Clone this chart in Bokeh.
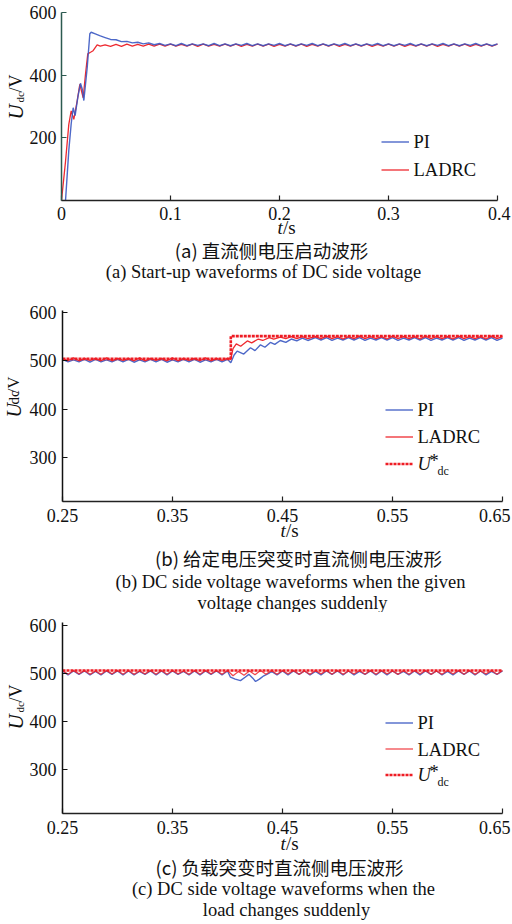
import math
from bokeh.plotting import figure
from bokeh.layouts import column
from bokeh.models import (Range1d, FixedTicker, Legend, LegendItem, LinearAxis,
                          CustomJSTickFormatter)
from bokeh.core.properties import value
from bokeh.embed import file_html
from bokeh.resources import INLINE

# ---------------- data ----------------
# (a) start-up
pi_a_tr_t = [0.0037, 0.0067, 0.0089, 0.0107, 0.0125, 0.0150, 0.0174, 0.0190, 0.0205, 0.0236, 0.0260, 0.0272, 0.0310, 0.0350]
pi_a_tr_u = [0, 160, 245, 296, 271, 330, 374, 356, 319, 425, 532, 537, 532, 526]
lad_a_tr_t = [0.0, 0.0037, 0.0067, 0.0089, 0.0113, 0.0144, 0.0168, 0.0199, 0.0220, 0.0241, 0.0266, 0.0290, 0.0327, 0.0356]
lad_a_tr_u = [0, 125, 243, 286, 259, 318, 371, 328, 403, 468, 473, 478, 497, 493]
t_a_ss = [0.040, 0.045, 0.050, 0.055, 0.060, 0.065, 0.070, 0.075, 0.080, 0.085, 0.090, 0.095,
          0.100, 0.105, 0.110, 0.115, 0.120, 0.125, 0.130, 0.135, 0.140, 0.145,
          0.150, 0.155, 0.160, 0.165, 0.170, 0.175, 0.180, 0.185, 0.190, 0.195,
          0.200, 0.205, 0.210, 0.215, 0.220, 0.225, 0.230, 0.235, 0.240, 0.245,
          0.250, 0.255, 0.260, 0.265, 0.270, 0.275, 0.280, 0.285, 0.290, 0.295,
          0.300, 0.305, 0.310, 0.315, 0.320, 0.325, 0.330, 0.335, 0.340, 0.345,
          0.350, 0.355, 0.360, 0.365, 0.370, 0.375, 0.380, 0.385, 0.390, 0.395,
          0.400]
pi_a_ss = [520, 514, 513, 507, 508, 503, 505, 500, 503, 497, 501, 495,
           500, 494, 501, 494, 500, 495, 500, 494, 501, 494,
           500, 494, 500, 495, 501, 494, 500, 494, 500, 495,
           501, 494, 500, 494, 500, 495, 501, 494, 500, 494,
           500, 495, 501, 494, 500, 494, 500, 495, 501, 494,
           500, 494, 500, 495, 501, 494, 500, 494, 500, 495,
           501, 494, 500, 494, 500, 495, 501, 494, 500, 494,
           500]
lad_a_ss = [497, 492, 498, 492, 499, 493, 498, 493, 499, 493, 499, 493,
            499, 493, 498, 493, 499, 492, 499, 493, 498, 493,
            499, 493, 499, 492, 498, 493, 499, 493, 499, 492,
            498, 493, 499, 493, 499, 492, 498, 493, 499, 493,
            499, 492, 498, 493, 499, 493, 499, 492, 498, 493,
            499, 493, 499, 492, 498, 493, 499, 493, 499, 492,
            498, 493, 499, 493, 499, 492, 498, 493, 499, 493,
            499]

# (b) and (c) common sampling before the disturbance
t_pre = [0.250, 0.255, 0.260, 0.265, 0.270, 0.275, 0.280, 0.285, 0.290, 0.295,
         0.300, 0.305, 0.310, 0.315, 0.320, 0.325, 0.330, 0.335, 0.340, 0.345,
         0.350, 0.355, 0.360, 0.365, 0.370, 0.375, 0.380, 0.385, 0.390, 0.395,
         0.400]

# (b) reference step
t_post_b = [0.480, 0.485, 0.490, 0.495, 0.500, 0.505, 0.510, 0.515, 0.520, 0.525,
            0.530, 0.535, 0.540, 0.545, 0.550, 0.555, 0.560, 0.565, 0.570, 0.575,
            0.580, 0.585, 0.590, 0.595, 0.600, 0.605, 0.610, 0.615, 0.620, 0.625,
            0.630, 0.635, 0.640, 0.645, 0.650]
pi_b_pre = [503, 498, 502, 498, 503, 497, 503, 498, 502, 498,
            503, 498, 503, 497, 502, 498, 503, 498, 503, 497,
            502, 498, 503, 498, 503, 497, 502, 498, 503, 498,
            503]
pi_b_tr_t = [0.403, 0.406, 0.4088, 0.4148, 0.4209, 0.425, 0.430, 0.434, 0.439, 0.443, 0.448, 0.453, 0.458, 0.463, 0.468, 0.473]
pi_b_tr_u = [496, 512, 520, 514, 527, 521, 533, 528, 538, 534, 542, 538, 545, 541, 547, 542]
pi_b_post = [548, 543, 548, 542, 547, 543, 548, 543, 548, 542,
             547, 543, 548, 543, 548, 542, 547, 543, 548, 543,
             548, 542, 547, 543, 548, 543, 548, 542, 547, 543,
             548, 543, 548, 542, 547]
lad_b_pre = [505, 500, 506, 500, 505, 501, 505, 500, 506, 500,
             505, 501, 505, 500, 506, 500, 505, 501, 505, 500,
             506, 500, 505, 501, 505, 500, 506, 500, 505, 501,
             505]
lad_b_tr_t = [0.403, 0.405, 0.408, 0.412, 0.418, 0.422, 0.428, 0.432, 0.438, 0.442, 0.448, 0.453, 0.458, 0.463, 0.468, 0.473]
lad_b_tr_u = [503, 525, 535, 530, 541, 537, 545, 542, 548, 545, 549, 546, 550, 546, 550, 546]
lad_b_post = [550, 546, 551, 546, 550, 545, 550, 546, 551, 546,
              550, 546, 550, 545, 551, 546, 550, 546, 550, 545,
              551, 546, 550, 546, 550, 545, 551, 546, 550, 546,
              550, 545, 551, 546, 550]
ustar_b_t = [0.25, 0.403, 0.403, 0.65]
ustar_b_u = [504, 504, 551, 551]

# (c) load step
t_mid_c = [0.405, 0.410, 0.415, 0.420, 0.425, 0.430, 0.435, 0.440]
t_post_c = [0.445, 0.450, 0.455, 0.460, 0.465, 0.470, 0.475,
            0.480, 0.485, 0.490, 0.495, 0.500, 0.505, 0.510, 0.515, 0.520, 0.525,
            0.530, 0.535, 0.540, 0.545, 0.550, 0.555, 0.560, 0.565, 0.570, 0.575,
            0.580, 0.585, 0.590, 0.595, 0.600, 0.605, 0.610, 0.615, 0.620, 0.625,
            0.630, 0.635, 0.640, 0.645, 0.650]
pi_c_pre = [505, 497, 505, 498, 505, 497, 504, 497, 505, 498,
            505, 497, 505, 497, 504, 498, 505, 497, 505, 497,
            505, 498, 504, 497, 505, 497, 505, 498, 505, 497,
            505]
pi_c_tr_t = [0.4027, 0.407, 0.4118, 0.416, 0.4194, 0.423, 0.4255, 0.429, 0.433, 0.4375, 0.440]
pi_c_tr_u = [492, 488, 485, 492, 498, 490, 483, 488, 495, 500, 504]
pi_c_post = [497, 505, 497, 505, 498, 505, 497, 504, 497, 505,
             498, 505, 497, 505, 497, 504, 498, 505, 497, 505,
             497, 505, 498, 504, 497, 505, 497, 505, 498, 505,
             497, 504, 497, 505, 498, 505, 497, 505, 497, 504,
             498, 505]
lad_c_pre = [506, 498, 506, 499, 506, 498, 505, 498, 506, 499,
             506, 498, 506, 498, 505, 499, 506, 498, 506, 498,
             506, 499, 505, 498, 506, 498, 506, 499, 506, 498,
             506]
lad_c_mid = [495, 504, 496, 505, 497, 506, 498, 506]
lad_c_post = [498, 506, 499, 506, 498, 505, 498, 506, 499, 506,
              498, 506, 498, 505, 499, 506, 498, 506, 498, 506,
              499, 505, 498, 506, 498, 506, 499, 506, 498, 505,
              498, 506, 499, 506, 498, 506, 498, 505, 499, 506,
              498, 506]
ustar_c_t = [0.25, 0.65]
ustar_c_u = [506, 506]

ticks_a_x = [0, 0.1, 0.2, 0.3, 0.4]
ticks_a_x_lbl = ["0", "0.1", "0.2", "0.3", "0.4"]
ticks_a_y = [200, 400, 600]
ticks_bc_x = [0.25, 0.35, 0.45, 0.55, 0.65]
ticks_bc_x_lbl = ["0.25", "0.35", "0.45", "0.55", "0.65"]
ticks_bc_y = [300, 400, 500, 600]

# ---------------- style ----------------
SERIF = "Liberation Serif"
CJK = "Noto Sans CJK SC"
BLUE = "#3a58c2"
RED = "#ee2a30"
RED_REF = "#ee1c24"
INK = "#111111"
W = 512
A = math.pi / 2


class Panel:
    """One figure whose frame is the whole panel; the plot area is placed with fixed-location axes."""

    def __init__(self, H, fl, fr, ft, fb, xr, yr, xt, yt, left_axis_color=INK):
        self.H, self.fl, self.fr, self.ft, self.fb = H, fl, fr, ft, fb
        self.xr, self.yr = xr, yr
        x0, x1 = xr
        y0, y1 = yr
        sx = (x1 - x0) / (fr - fl)
        sy = (y1 - y0) / (fb - ft)
        p = figure(width=W, height=H, output_backend="svg", toolbar_location=None, title=None,
                   x_range=Range1d(x0 - fl * sx, x1 + (W - fr) * sx),
                   y_range=Range1d(y0 - (H - fb) * sy, y1 + ft * sy),
                   x_axis_location=None, y_axis_location=None,
                   min_border_left=0, min_border_right=0, min_border_top=0, min_border_bottom=0)
        p.grid.visible = False
        p.outline_line_color = None
        p.extra_x_ranges = {"px": Range1d(0, W)}
        p.extra_y_ranges = {"px": Range1d(H, 0)}
        blank = CustomJSTickFormatter(code="return '';")
        xa = LinearAxis(fixed_location=y0, bounds=(x0, x1), ticker=FixedTicker(ticks=xt), formatter=blank)
        ya = LinearAxis(fixed_location=x0, bounds=(y0, y1), ticker=FixedTicker(ticks=yt), formatter=blank)
        for ax in (xa, ya):
            ax.major_tick_in = 5
            ax.major_tick_out = 0
            ax.minor_tick_line_color = None
            ax.axis_line_width = 1.5
            ax.major_tick_line_width = 1.2
            ax.major_label_standoff = 0
            ax.major_label_text_font_size = "1px"
        xa.axis_line_color = "#222222"
        xa.major_tick_line_color = "#222222"
        ya.axis_line_color = left_axis_color
        ya.major_tick_line_color = left_axis_color
        p.add_layout(xa, "below")
        p.add_layout(ya, "left")
        self.p = p

    def put(self, X, Y, s, size=18.5, font=SERIF, style="normal", align="left", angle=0.0):
        # X, Y in pixels from this panel's top-left corner; Y is the vertical middle of the text
        self.p.text(x=[X], y=[Y], text=[s], x_range_name="px", y_range_name="px",
                    text_font=value(font), text_font_size=value(f"{size}px"),
                    text_font_style=value(style), text_align=value(align),
                    text_baseline=value("middle"), angle=angle, text_color=INK)

    def x_ticks(self, ticks, labels, mid):
        x0, x1 = self.xr
        for t, s in zip(ticks, labels):
            sx = self.fl + (t - x0) / (x1 - x0) * (self.fr - self.fl)
            if sx + 17 > W:
                self.put(W - 2, mid, s, 18, align="right")
            else:
                self.put(sx, mid, s, 18, align="center")

    def y_ticks(self, ticks):
        y0, y1 = self.yr
        for u in ticks:
            sy = self.fb - (u - y0) / (y1 - y0) * (self.fb - self.ft)
            self.put(56, sy, str(u), 18, align="right")

    def legend(self, renderers, left, bottom, spacing):
        items = [LegendItem(label=value(" "), renderers=[r]) for r in renderers]
        leg = Legend(items=items, location=(left, self.H - bottom), padding=0, margin=0,
                     spacing=spacing, glyph_width=28, glyph_height=21, label_height=21,
                     label_standoff=4, border_line_color=None, background_fill_alpha=0,
                     label_text_font_size="18px", label_text_baseline="middle")
        self.p.add_layout(leg)

    def t_over_s(self, cx, mid):
        self.put(cx - 9, mid, "t", 19, style="italic")
        self.put(cx - 3.5, mid, "/s", 19)

    def ustar(self, X, Y):
        self.put(X, Y, "U", 18.5, style="italic")
        self.put(X + 12, Y - 3, "*", 18.5)
        self.put(X + 20, Y + 7, "dc", 12)


# ---------------- (a) start-up : page y 0..290 ----------------
a = Panel(290, 61, 497, 12, 200, (0, 0.4), (0, 600), ticks_a_x, ticks_a_y, left_axis_color="#2c5a50")
r_lad_a = a.p.line(lad_a_tr_t + t_a_ss, lad_a_tr_u + lad_a_ss, line_color=RED, line_width=1.3)
r_pi_a = a.p.line(pi_a_tr_t + t_a_ss, pi_a_tr_u + pi_a_ss, line_color=BLUE, line_width=1.4, line_alpha=0.9)
a.legend([r_pi_a, r_lad_a], 381, 179.5, 7)
a.put(413, 141, "PI")
a.put(413, 169, "LADRC")
a.y_ticks(ticks_a_y)
a.x_ticks(ticks_a_x, ticks_a_x_lbl, 212.5)
a.put(15, 119, "U", 21, style="italic", angle=A)
a.put(19, 102, "dc", 11, angle=A)
a.put(15, 92, "/V", 18, angle=A)
a.t_over_s(286, 226.5)
a.put(271, 249, "(a) 直流侧电压启动波形", 18.5, font=CJK, align="center")
a.put(263, 271, "(a) Start-up waveforms of DC side voltage", 18.5, align="center")

# ---------------- (b) reference step : page y 290..612 ----------------
b = Panel(322, 62, 502, 20, 211, (0.25, 0.65), (209, 604), ticks_bc_x, ticks_bc_y)
r_pi_b = b.p.line(t_pre + pi_b_tr_t + t_post_b, pi_b_pre + pi_b_tr_u + pi_b_post,
                  line_color=BLUE, line_width=1.4, line_alpha=0.9)
r_lad_b = b.p.line(t_pre + lad_b_tr_t + t_post_b, lad_b_pre + lad_b_tr_u + lad_b_post,
                   line_color=RED, line_width=1.3)
r_us_b = b.p.line(ustar_b_t, ustar_b_u, line_color=RED_REF, line_width=2.6, line_dash="3 1")
b.legend([r_pi_b, r_lad_b, r_us_b], 385, 473.5 - 290, 6)
b.put(417, 409 - 290, "PI")
b.put(417, 436 - 290, "LADRC")
b.ustar(417, 463 - 290)
b.y_ticks(ticks_bc_y)
b.x_ticks(ticks_bc_x, ticks_bc_x_lbl, 515 - 290)
b.put(13, 417 - 290, "U", 20, style="italic", angle=A)
b.put(13, 404 - 290, "dc", 15, angle=A)
b.put(13, 393 - 290, "/V", 17, angle=A)
b.t_over_s(289, 530 - 290)
b.put(298, 557 - 290, "(b) 给定电压突变时直流侧电压波形", 18.5, font=CJK, align="center")
b.put(290, 581 - 290, "(b) DC side voltage waveforms when the given", 18.5, align="center")
b.put(292, 602 - 290, "voltage changes suddenly", 18.5, align="center")

# ---------------- (c) load step : page y 612..924 ----------------
c = Panel(312, 62, 502, 10, 201, (0.25, 0.65), (208, 606), ticks_bc_x, ticks_bc_y)
r_pi_c = c.p.line(t_pre + pi_c_tr_t + t_post_c, pi_c_pre + pi_c_tr_u + pi_c_post,
                  line_color=BLUE, line_width=1.4, line_alpha=0.9)
r_lad_c = c.p.line(t_pre + t_mid_c + t_post_c, lad_c_pre + lad_c_mid + lad_c_post,
                   line_color=RED, line_width=1.3, line_alpha=0.85)
r_us_c = c.p.line(ustar_c_t, ustar_c_u, line_color=RED_REF, line_width=2.6, line_dash="3 1")
c.legend([r_pi_c, r_lad_c, r_us_c], 385, 784.5 - 612, 5)
c.put(417, 722 - 612, "PI")
c.put(417, 749 - 612, "LADRC")
c.ustar(417, 774 - 612)
c.y_ticks(ticks_bc_y)
c.x_ticks(ticks_bc_x, ticks_bc_x_lbl, 826.5 - 612)
c.put(15, 729 - 612, "U", 21, style="italic", angle=A)
c.put(19, 712 - 612, "dc", 11, angle=A)
c.put(15, 702 - 612, "/V", 18, angle=A)
c.t_over_s(289, 843 - 612)
c.put(279, 866 - 612, "(c) 负载突变时直流侧电压波形", 18.5, font=CJK, align="center")
c.put(283, 888 - 612, "(c) DC side voltage waveforms when the", 18.5, align="center")
c.put(286, 909 - 612, "load changes suddenly", 18.5, align="center")

layout = column(a.p, b.p, c.p, spacing=0)
open("out.html", "w").write(file_html(layout, INLINE))
